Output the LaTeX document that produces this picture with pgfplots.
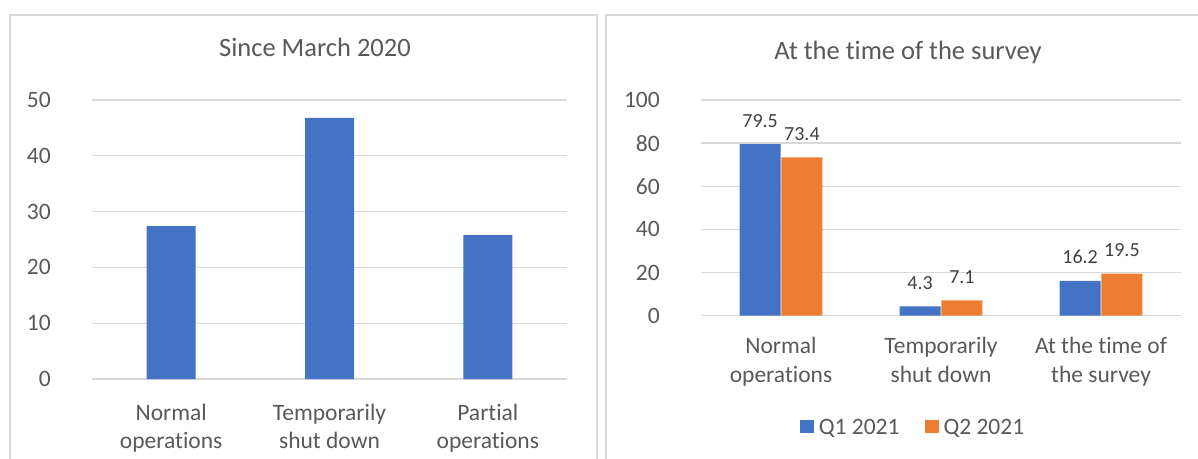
\documentclass[border=0pt]{standalone}
\usepackage{pgfplots}
\pgfplotsset{compat=1.18}
\usepackage{fontspec}
\setmainfont{Carlito}[Ligatures=NoCommon]

\definecolor{q1blue}{HTML}{4472C4}
\definecolor{q2orange}{HTML}{ED7D31}
\definecolor{gridgray}{HTML}{D9D9D9}
\definecolor{txtgray}{HTML}{595959}
\definecolor{valgray}{HTML}{404040}

\newcommand\tickfont{\fontsize{23.5}{28.5}\selectfont}
\newcommand\titlefont{\fontsize{26.5}{32}\selectfont}
\newcommand\valfont{\fontsize{20}{24}\selectfont}

\pgfplotsset{
  panel/.style={
    scale only axis,
    clip=false,
    axis line style={draw=none},
    major tick length=0pt,
    ymajorgrids,
    grid style={gridgray, line width=1.3pt},
    xmin=-0.5, xmax=2.5, ymin=0,
    xtick={0,1,2},
    /pgf/number format/assume math mode=true,
    tick label style={font=\tickfont, text=txtgray},
    yticklabel style={anchor=east, inner sep=0pt, xshift=-41pt},
    xticklabel style={align=center, anchor=base, inner sep=0pt},
  },
}

\begin{document}
\begin{tikzpicture}
\useasboundingbox (0,0) rectangle (1198pt,458pt);

% panel frames, open at the bottom
\begin{scope}
  \clip (0,0) rectangle (1198pt,458pt);
  \draw[gridgray, line width=1.2pt] (10pt,-5pt) -- (10pt,443pt) -- (597pt,443pt) -- (597pt,-5pt);
  \draw[gridgray, line width=1.2pt] (606pt,-5pt) -- (606pt,443pt) -- (1210pt,443pt);
\end{scope}

% titles
\node[anchor=base, inner sep=0pt, text=txtgray, font=\titlefont] at (315pt,401pt) {Since March 2020};
\node[anchor=base, inner sep=0pt, text=txtgray, font=\titlefont] at (908pt,398pt) {At the time of the survey};

% left panel: status since March 2020
\begin{axis}[
  panel,
  at={(92pt,79pt)}, anchor=south west,
  width=475pt, height=279pt,
  ymax=50, ytick={0,10,...,50},
  xticklabels={{Normal\\operations},{Temporarily\\shut down},{Partial\\operations}},
  xticklabel style={yshift=-69.5pt},
  ybar, bar width=49pt,
]
\addplot[fill=q1blue, draw=none] coordinates {(0,27.4) (1,46.8) (2,25.8)};
\end{axis}

% right panel: status at the time of the survey
\begin{axis}[
  panel,
  at={(701pt,142.3pt)}, anchor=south west,
  width=480pt, height=215.7pt,
  ymax=100, ytick={0,20,...,100},
  xticklabels={{Normal\\operations},{Temporarily\\shut down},{At the time of\\the survey}},
  xticklabel style={yshift=-66.5pt},
  ybar=0.8pt, bar width=41pt,
  nodes near coords={\pgfmathprintnumber[fixed,fixed zerofill,precision=1]{\pgfplotspointmeta}},
  nodes near coords style={font=\valfont, text=valgray, anchor=base, inner sep=0pt, yshift=17pt},
  legend columns=2,
  legend style={at={(0.4417,-0.5206)}, anchor=center, draw=none, fill=none,
    font=\tickfont, text=txtgray,
    /tikz/every even column/.append style={column sep=23pt}},
]
\addplot[fill=q1blue, draw=none,
  legend image code/.code={\fill[q1blue] (0pt,-5pt) rectangle (14pt,8pt); \path (17pt,0pt);}]
  coordinates {(0,79.5) (1,4.3) (2,16.2)};
\addlegendentry{Q1 2021}
\addplot[fill=q2orange, draw=none,
  legend image code/.code={\fill[q2orange] (0pt,-5pt) rectangle (14pt,8pt); \path (17pt,0pt);}]
  coordinates {(0,73.4) (1,7.1) (2,19.5)};
\addlegendentry{Q2 2021}
\end{axis}
\end{tikzpicture}
\end{document}
